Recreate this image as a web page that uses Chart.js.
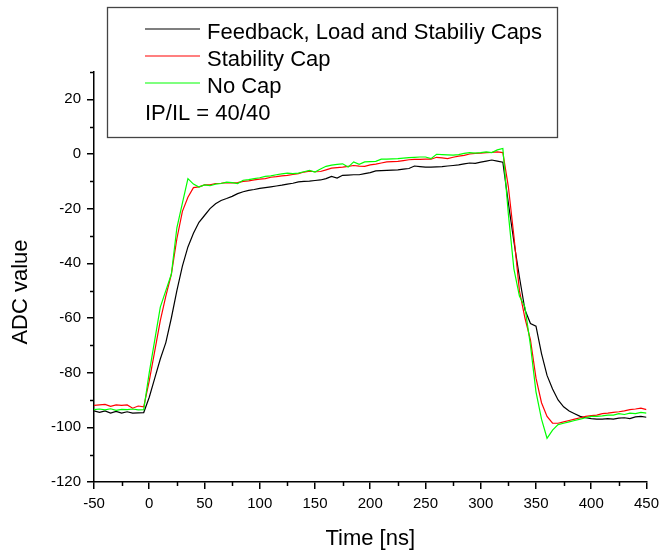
<!DOCTYPE html>
<html>
<head>
<meta charset="utf-8">
<script src="https://cdn.jsdelivr.net/npm/chart.js@4.4.1/dist/chart.umd.min.js"></script>
<style>
html,body{margin:0;padding:0;background:#fff;}
#wrap{width:665px;height:554px;position:relative;}
</style>
</head>
<body>
<div id="wrap"><canvas id="c" width="665" height="554"></canvas></div>
<script>
// ---- data ----
const timeNs = [
  -50,-45,-40,-35,-30,-25,-20,-15,-10,-5,
  0,5,10,15,20,25,30,35,40,45,
  50,55,60,65,70,75,80,85,90,95,
  100,105,110,115,120,125,130,135,140,145,
  150,155,160,165,170,175,180,185,190,195,
  200,205,210,215,220,225,230,235,240,245,
  250,255,260,265,270,275,280,285,290,295,
  300,305,310,315,320,325,330,335,340,345,
  350,355,360,365,370,375,380,385,390,395,
  400,405,410,415,420,425,430,435,440,445,
  450
];
const feedbackLoadStability = [
  -94,-94.5,-94,-94.8,-94.2,-94.8,-94.3,-94.8,-94.7,-94.6,
  -89,-82,-75,-69,-60,-50,-41,-34,-29,-25,
  -22.5,-20,-18.2,-17,-16.3,-15.5,-14.5,-13.8,-13.3,-13,
  -12.6,-12.3,-12,-11.7,-11.4,-11,-10.7,-10.2,-10,-9.9,
  -9.7,-9.5,-9,-8.2,-8.8,-7.8,-7.7,-7.6,-7.6,-7.2,
  -6.8,-6.2,-6.1,-6,-5.9,-5.8,-5.5,-5.3,-4.4,-4.6,
  -4.8,-4.8,-4.7,-4.6,-4.4,-4.2,-4,-3.6,-3.3,-3.4,
  -3,-2.6,-2.2,-2.6,-3,-18,-32,-45,-57,-62,
  -63,-73,-81,-86,-90,-92.5,-94,-95,-96,-96.5,
  -96.8,-97,-97,-96.8,-97,-96.6,-96.5,-96.8,-96.2,-96,
  -96.3
];
const stabilityCap = [
  -92,-91.8,-91.6,-92.3,-91.8,-92,-91.8,-93,-92.2,-92.5,
  -83,-72,-61,-52,-44,-31,-21,-15.8,-12.3,-12,
  -11.3,-11.3,-10.8,-10.7,-10.5,-10.6,-10.5,-10,-9.8,-9.5,
  -9.2,-9,-8.5,-8.3,-8,-7.8,-7.5,-7.2,-6.6,-6.3,
  -6.5,-6.4,-5.8,-5.2,-5,-4.8,-4.5,-4.2,-4.4,-4.5,
  -4,-3.7,-3.3,-2.9,-2.8,-2.7,-2.4,-2.1,-2,-2,
  -1.9,-1.9,-1.2,-1.4,-1.7,-1.2,-0.8,-0.5,0,0.2,
  0.3,0.5,0.6,0.8,0.5,-12,-30,-50,-60,-68,
  -82,-91,-96,-98.5,-98.5,-98,-97.5,-97,-96.5,-96,
  -95.7,-95.5,-95,-94.8,-94.5,-94.3,-94,-93.5,-93.3,-93,
  -93.5
];
const noCap = [
  -93.5,-93.3,-93.6,-93.2,-93.8,-93.4,-93.5,-93.3,-93.6,-93.5,
  -80,-68,-56,-50,-44,-27,-18,-9,-11,-12.1,
  -11.3,-11.6,-11,-10.8,-10.3,-10.5,-10.8,-9.6,-9.4,-9,
  -8.7,-8.2,-8,-7.6,-7.3,-7,-7.2,-7,-6.5,-6,
  -6.6,-5.5,-4.5,-4.1,-3.8,-3.6,-4.8,-2.9,-3.8,-2.9,
  -2.8,-2.7,-1.9,-1.9,-1.8,-1.7,-1.5,-1.3,-1.2,-1.1,
  -1.1,-1.7,-0.1,-0.2,-0.3,-0.4,-0.2,0.2,0.5,0.3,
  0.5,0.8,0.5,1.5,2,-22,-42,-52,-56,-70,
  -87,-97,-104,-101,-99,-98.5,-98,-97.5,-97,-96.5,
  -96,-96,-95.8,-95.5,-95.5,-95,-95.3,-94.8,-95,-94.5,
  -94.8
];
const seriesNames = ['Feedback, Load and Stabiliy Caps', 'Stability Cap', 'No Cap'];
const seriesColors = ['#000000', '#ff0000', '#00ff00'];
const legendNote = 'IP/IL = 40/40';
const xTitle = 'Time [ns]';
const yTitle = 'ADC value';
const xMinorTicks = [-25,25,75,125,175,225,275,325,375,425];
const yMinorTicks = [-110,-90,-70,-50,-30,-10,10,30];

const FONT = '"Liberation Sans", Arial, sans-serif';
const seriesValues = [feedbackLoadStability, stabilityCap, noCap];

const decorPlugin = {
  id: 'decor',
  afterDraw(chart) {
    const ctx = chart.ctx;
    const xs = chart.scales.x, ys = chart.scales.y;
    ctx.save();
    // minor ticks
    ctx.strokeStyle = '#000';
    ctx.lineWidth = 1.5;
    xMinorTicks.forEach(v => {
      const px = Math.round(xs.getPixelForValue(v)) + 0.5;
      ctx.beginPath(); ctx.moveTo(px, ys.bottom); ctx.lineTo(px, ys.bottom + 4); ctx.stroke();
    });
    yMinorTicks.forEach(v => {
      const py = Math.round(ys.getPixelForValue(v)) + 0.5;
      ctx.beginPath(); ctx.moveTo(xs.left, py); ctx.lineTo(xs.left - 4, py); ctx.stroke();
    });
    // axis titles
    ctx.fillStyle = '#000';
    ctx.font = '22px ' + FONT;
    ctx.textAlign = 'center';
    ctx.textBaseline = 'alphabetic';
    ctx.fillText(xTitle, (xs.left + xs.right) / 2, 545);
    ctx.save();
    ctx.translate(27, 292);
    ctx.rotate(-Math.PI / 2);
    ctx.fillText(yTitle, 0, 0);
    ctx.restore();
    // legend box
    ctx.fillStyle = '#fff';
    ctx.fillRect(107, 7, 450, 130);
    ctx.strokeStyle = '#444';
    ctx.lineWidth = 1.3;
    ctx.strokeRect(107.5, 7.5, 450, 130);
    ctx.font = '22px ' + FONT;
    ctx.textAlign = 'left';
    const rows = [38.5, 65.5, 92.5];
    seriesNames.forEach((name, i) => {
      ctx.strokeStyle = seriesColors[i];
      ctx.lineWidth = 1.2;
      ctx.beginPath(); ctx.moveTo(145, rows[i] - 9.5); ctx.lineTo(200, rows[i] - 9.5); ctx.stroke();
      ctx.fillStyle = '#000';
      ctx.fillText(name, 207, rows[i]);
    });
    ctx.fillText(legendNote, 145, 120);
    ctx.restore();
  }
};

new Chart(document.getElementById('c'), {
  type: 'line',
  data: {
    datasets: seriesNames.map((name, i) => ({
      label: name,
      data: timeNs.map((t, k) => ({ x: t, y: seriesValues[i][k] })),
      borderColor: seriesColors[i],
      borderWidth: 1.2,
      pointRadius: 0,
      tension: 0,
      fill: false,
      order: 2 - i
    }))
  },
  options: {
    responsive: false,
    maintainAspectRatio: false,
    devicePixelRatio: 1,
    animation: false,
    layout: { padding: { top: 72, right: 15, left: 0, bottom: 0 } },
    plugins: { legend: { display: false }, tooltip: { enabled: false } },
    scales: {
      x: {
        type: 'linear',
        min: -50, max: 450,
        afterFit(s) { s.height = 72; },
        border: { display: true, color: '#000', width: 1.5 },
        grid: { drawOnChartArea: false, drawTicks: true, tickLength: 7, color: '#000', lineWidth: 1.5 },
        ticks: { stepSize: 50, autoSkip: false, maxRotation: 0, padding: 6, color: '#000', font: { family: FONT, size: 15 } }
      },
      y: {
        type: 'linear',
        min: -120, max: 30,
        afterFit(s) { s.width = 94; },
        border: { display: true, color: '#000', width: 1.5 },
        grid: { drawOnChartArea: false, drawTicks: true, tickLength: 7, color: '#000', lineWidth: 1.5 },
        ticks: { stepSize: 20, includeBounds: false, padding: 6, color: '#000', font: { family: FONT, size: 15 } }
      }
    }
  },
  plugins: [decorPlugin]
});
</script>
</body>
</html>
